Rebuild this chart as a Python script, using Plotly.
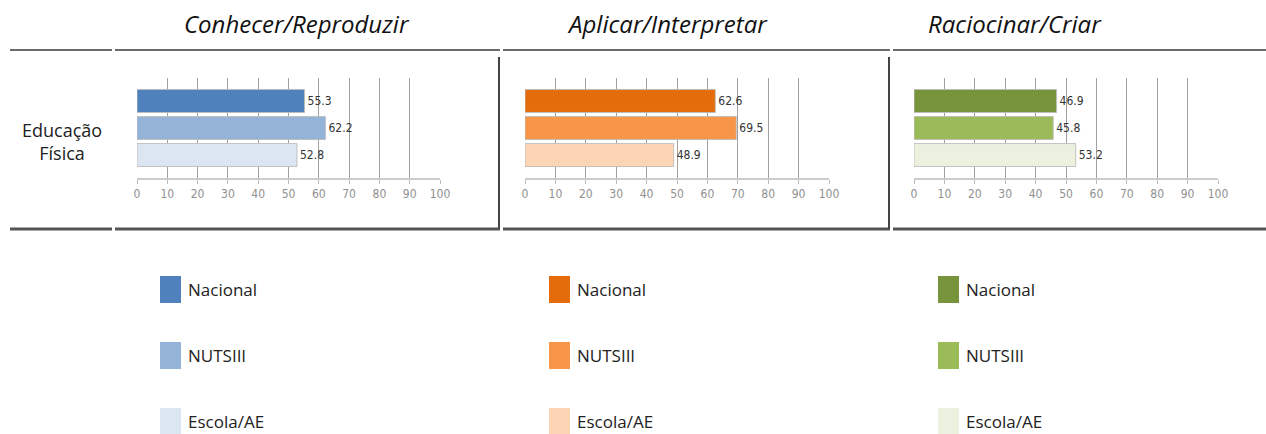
import plotly.graph_objects as go

W, H = 1266, 434

subject = "Educação<br>Física"
panels = ["Conhecer/Reproduzir", "Aplicar/Interpretar", "Raciocinar/Criar"]
series = ["Nacional", "NUTSIII", "Escola/AE"]
conhecer_vals = [55.3, 62.2, 52.8]
aplicar_vals = [62.6, 69.5, 48.9]
raciocinar_vals = [46.9, 45.8, 53.2]
blue_colors = ["#4F81BD", "#95B3D7", "#DCE6F2"]
orange_colors = ["#E46C0A", "#F79646", "#FCD5B5"]
green_colors = ["#77933C", "#9BBB59", "#EBF1DE"]
x_ticks = [0, 10, 20, 30, 40, 50, 60, 70, 80, 90, 100]

values = [conhecer_vals, aplicar_vals, raciocinar_vals]
colors = [blue_colors, orange_colors, green_colors]

def px(x):
    return x / W

def py(y):
    return 1 - y / H

# plot areas in pixels (x0 at value 0, x1 at value 100)
plot_x = [(137, 440), (525, 829), (914, 1218)]
plot_y = (78, 178)

fig = go.Figure()
layout = dict(
    template="none", autosize=False,
    width=W, height=H, margin=dict(l=0, r=0, t=0, b=0, pad=0, autoexpand=False),
    paper_bgcolor="white", plot_bgcolor="white", showlegend=False,
    shapes=[], annotations=[],
)

for i in range(3):
    xa = "x" if i == 0 else f"x{i+1}"
    ya = "y" if i == 0 else f"y{i+1}"
    fig.add_trace(go.Bar(
        x=values[i], y=series, orientation="h",
        marker=dict(color=colors[i], line=dict(color="rgba(190,190,190,0.9)", width=1)),
        width=0.85,
        text=[f"{v:.1f}" for v in values[i]], textposition="outside",
        textfont=dict(family="DejaVu Sans Condensed, DejaVu Sans", size=12, color="#333333"),
        cliponaxis=False,
        xaxis=xa, yaxis=ya, hoverinfo="skip",
    ))
    key = "" if i == 0 else str(i + 1)
    layout["xaxis" + key] = dict(
        domain=[px(plot_x[i][0]), px(plot_x[i][1])], anchor=ya,
        range=[0, 100], tickvals=x_ticks, ticktext=[str(t) for t in x_ticks],
        showgrid=True, gridcolor="#a0a0a0", gridwidth=1,
        showline=True, linecolor="#cccccc", linewidth=2,
        ticks="outside", ticklen=4, tickcolor="#bbbbbb",
        tickfont=dict(family="DejaVu Sans Condensed, DejaVu Sans", size=12, color="#909090"),
        zeroline=False, fixedrange=True, automargin=False,
    )
    layout["yaxis" + key] = dict(
        domain=[py(plot_y[1]), py(plot_y[0])], anchor=xa,
        type="category", categoryorder="array", categoryarray=series,
        range=[2.85, -0.85], showticklabels=False, showgrid=False,
        zeroline=False, showline=False, fixedrange=True, automargin=False,
    )

# column titles
title_x = [297, 667, 1015]
for i, t in enumerate(panels):
    layout["annotations"].append(dict(
        text=f"<i>{t}</i>", x=px(title_x[i]), y=py(24), xref="paper", yref="paper",
        showarrow=False, xanchor="center", yanchor="middle",
        font=dict(family="Open Sans", size=24, color="#111111"),
    ))

# row label
layout["annotations"].append(dict(
    text=subject, x=px(62), y=py(141), xref="paper", yref="paper",
    showarrow=False, xanchor="center", yanchor="middle", align="center",
    font=dict(family="Open Sans", size=18, color="#222222"),
))

# table lines
segs = [(10, 112), (115, 500), (503, 890), (893, 1266)]
for a, b in segs:
    layout["shapes"].append(dict(type="line", xref="paper", yref="paper",
        x0=px(a), x1=px(b), y0=py(50), y1=py(50), line=dict(color="#3a3a3a", width=1.5)))
    layout["shapes"].append(dict(type="line", xref="paper", yref="paper",
        x0=px(a), x1=px(b), y0=py(229), y1=py(229), line=dict(color="#555555", width=3)))
for vx in (499, 889):
    layout["shapes"].append(dict(type="line", xref="paper", yref="paper",
        x0=px(vx), x1=px(vx), y0=py(57), y1=py(229), line=dict(color="#444444", width=2)))

# legends
legend_x = [160, 549, 938]
legend_y = [289, 355, 421]
for i in range(3):
    for j, name in enumerate(series):
        cy = legend_y[j]
        layout["shapes"].append(dict(type="rect", xref="paper", yref="paper",
            x0=px(legend_x[i]), x1=px(legend_x[i] + 21), y0=py(cy + 14), y1=py(cy - 13),
            fillcolor=colors[i][j], line=dict(width=0)))
        layout["annotations"].append(dict(
            text=name, x=px(legend_x[i] + 26), y=py(cy), xref="paper", yref="paper",
            showarrow=False, xanchor="left", yanchor="middle",
            font=dict(family="Open Sans", size=17, color="#222222"),
        ))

fig.update_layout(**layout)
post = ("document.body.style.margin='0';document.body.style.padding='0';"
        "document.body.style.overflow='hidden';")
fig.write_html("out.html", post_script=post,
               config={"responsive": False, "displayModeBar": False})
